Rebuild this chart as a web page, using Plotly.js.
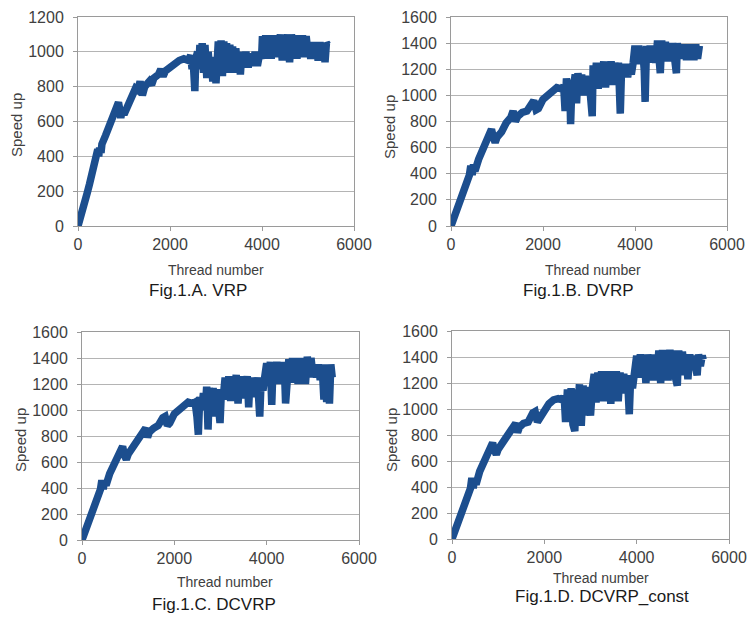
<!DOCTYPE html>
<html>
<head>
<meta charset="utf-8">
<script src="https://cdn.plot.ly/plotly-3.0.1.min.js"></script>
<style>html,body{margin:0;padding:0;background:#fff}#chart{width:747px;height:619px}</style>
</head>
<body>
<div id="chart"></div>
<script>
// Fig.1.A VRP
const threadsA = [0,50,100,150,200,250,300,350,400,430,450,470,500,520,600,700,780,850,880,900,930,960,1000,1100,1200,1250,1300,1350,1400,1450,1550,1600,1650,1750,1800,1850,1900,2000,2100,2200,2300,2400,
2450,2480,2500,2540,2560,2600,2620,2650,2680,2700,2730,2760,2800,2830,2860,2900,2930,2960,3000,3020,3050,3080,3110,3140,3170,3200,3230,3260,3300,3330,3360,3400,3430,3460,3500,3530,3560,3600,3650,3700,3750,3800,3850,3900,3950,3990,
4010,4040,4080,4120,4160,4200,4240,4280,4320,4360,4400,4440,4480,4520,4560,4600,4640,4680,4720,4760,4800,4840,4880,4920,4960,5000,
5020,5060,5100,5140,5180,5220,5260,5300,5340,5370,5400,5430];
const speedupA = [0,40,90,140,190,240,290,340,390,440,400,450,420,470,520,590,640,690,710,680,620,670,640,700,760,790,780,830,750,800,830,810,850,870,900,860,890,910,940,950,960,950,
980,900,970,775,960,1000,900,1040,950,1050,880,1040,850,1000,900,960,830,970,820,1000,1060,870,1065,860,1060,900,1050,880,1040,950,1030,880,1020,940,1000,870,990,920,1000,910,990,920,1000,920,990,960,
1090,960,1095,990,1090,960,1095,1000,1090,970,1100,950,1095,1000,1100,940,1100,1000,1095,960,1090,980,1095,970,1090,990,
1050,960,1055,990,1050,950,1055,970,1050,940,1050,1040];

// Fig.1.B DVRP
const threadsB = [0,100,200,300,400,430,460,490,520,600,700,800,880,920,960,1000,1100,1200,1300,1350,1400,1450,1550,1650,1750,1800,1850,1900,2000,2100,2200,2300,2400,
2450,2480,2510,2540,2580,2600,2630,2660,2700,2730,2760,2800,2840,2880,2920,2960,3000,3030,
3070,3090,3120,3160,3200,3240,3280,3320,3360,3400,3440,3480,3520,3560,3600,3640,3680,3710,3750,3800,3840,3880,3920,3960,
4000,4040,4080,4120,4160,4200,4220,4250,4290,4330,4370,4410,4450,4490,4520,4550,4580,4620,4660,4700,4740,4780,4820,4860,4900,4920,4960,5000,5040,5080,5120,5160,5200,5240,5280,5320,5360,5400];
const speedupB = [0,90,190,290,390,460,390,470,420,510,600,660,740,680,640,680,720,790,830,880,800,840,870,880,940,960,890,900,970,1000,1040,1060,1050,
1070,880,1130,1000,1120,780,1100,1050,1160,940,1170,1040,1160,1000,1150,1020,1130,1000,
840,1230,1060,1250,1050,1240,1080,1260,1060,1250,1100,1260,1080,1250,1120,1250,860,1230,1150,1240,1140,1230,1160,1250,
1380,1240,1380,1260,1370,1200,950,1380,1250,1380,1260,1370,1250,1420,1280,1170,1420,1260,1410,1280,1400,1260,1400,1280,1170,1400,1280,1390,1290,1390,1270,1390,1290,1390,1270,1390,1280,1380];

// Fig.1.C DCVRP
const threadsC = [0,100,200,300,400,430,460,490,520,600,700,800,880,920,960,1000,1100,1200,1300,1380,1420,1460,1550,1650,1750,1800,1850,1900,2000,2100,2200,2300,2400,
2450,2490,2520,2550,2590,2630,2670,2700,2730,2760,2800,2840,2880,2920,2960,2990,3020,
3060,3100,3140,3180,3220,3260,3300,3340,3380,3420,3460,3500,3540,3580,3610,3640,3680,3720,3760,3800,3850,3880,3920,3960,
4000,4040,4080,4110,4140,4180,4220,4260,4300,4340,4380,4410,4440,4480,4520,4560,4600,4640,4680,4720,4760,4800,4840,4880,4920,4960,5000,
5040,5080,5120,5160,5200,5240,5270,5300,5330,5360,5390,5420];
const speedupC = [0,90,190,290,390,460,390,460,420,510,590,650,720,650,620,660,720,780,820,860,790,830,860,880,940,950,880,900,970,1000,1040,1060,1050,
1060,950,810,1100,1000,1130,1000,1180,850,1170,1020,1170,950,1160,1050,900,1150,
1100,1250,1080,1260,1070,1250,1100,1270,1050,1260,1090,1250,1100,1260,1020,1250,1100,1240,1120,1250,950,1230,1150,1260,
1360,1220,1370,1040,1360,1200,1370,1210,1360,1200,1370,1050,1360,1390,1220,1400,1210,1400,1200,1400,1230,1400,1200,1410,1250,1400,1280,
1350,1250,1350,1230,1350,1080,1340,1060,1350,1050,1350,1250];

// Fig.1.D DCVRP_const
const threadsD = [0,100,200,300,400,430,460,490,520,600,700,800,880,920,960,1000,1100,1200,1300,1380,1420,1460,1550,1650,1750,1800,1850,1900,2000,2100,2200,2300,2400,
2430,2460,2500,2540,2580,2620,2660,2690,2730,2760,2800,2840,2880,2920,2960,3000,3040,
3080,3120,3160,3200,3240,3280,3320,3360,3400,3440,3480,3520,3560,3600,3640,3680,3720,3760,3800,3840,3870,3910,3950,
4000,4040,4080,4120,4160,4200,4240,4280,4320,4360,4400,4440,4480,4520,4560,4600,4640,4680,4720,4760,4800,4840,4880,4910,4950,4990,
5030,5070,5110,5150,5190,5230,5270,5310,5340,5380,5420,5440];
const speedupD = [0,90,190,290,390,470,390,470,420,520,600,670,740,680,650,690,750,810,850,890,820,860,890,900,970,980,900,930,1000,1040,1070,1080,1070,
1100,900,1150,950,1160,880,830,1150,1000,1190,870,1180,950,1170,1000,950,1160,
1270,1050,1280,1100,1290,1060,1280,1120,1290,1040,1280,1100,1290,1060,1280,1120,1270,1150,1260,960,1250,1160,1260,
1410,1240,1420,1280,1410,1200,1420,1260,1410,1220,1420,1260,1450,1200,1455,1250,1450,1220,1455,1260,1450,1240,1180,1450,1260,1440,
1320,1420,1230,1420,1300,1410,1290,1260,1420,1330,1410,1380];

const captions = ["Fig.1.A. VRP", "Fig.1.B. DVRP", "Fig.1.C. DCVRP", "Fig.1.D. DCVRP_const"];
const xTitle = "Thread number";
const yTitle = "Speed up";

const W = 747, H = 619;
const px = v => v / W, py = v => 1 - v / H;
const lineColor = "#1c4e8e";
const FONT = "Liberation Sans, Arial, sans-serif";

const panels = [
  {x: threadsA, y: speedupA, xd: [78, 354], yd: [226, 17], ymax: 1200, cap: [198, 291], xt: [216, 270], yt: [17, 125]},
  {x: threadsB, y: speedupB, xd: [451, 727], yd: [226, 17], ymax: 1600, cap: [578, 291], xt: [593, 270], yt: [389, 127]},
  {x: threadsC, y: speedupC, xd: [82, 359], yd: [540, 332], ymax: 1600, cap: [214, 604], xt: [225, 582], yt: [20, 440]},
  {x: threadsD, y: speedupD, xd: [452, 729], yd: [539, 331], ymax: 1600, cap: [602, 596], xt: [601, 578], yt: [391, 440]}
];

const traces = [];
const layout = {
  width: W, height: H,
  margin: {l: 0, r: 0, t: 0, b: 0},
  paper_bgcolor: "#fff", plot_bgcolor: "#fff",
  showlegend: false,
  font: {family: FONT, color: "#404040"},
  annotations: []
};

panels.forEach((p, i) => {
  const n = i === 0 ? "" : String(i + 1);
  traces.push({
    type: "scatter", mode: "lines",
    x: p.x, y: p.y,
    xaxis: "x" + n, yaxis: "y" + n,
    line: {color: lineColor, width: 7.5},
    hoverinfo: "skip"
  });
  const axCommon = {
    showline: true, linecolor: "#9a9a9a", linewidth: 1, mirror: true,
    ticks: "outside", ticklen: 4, tickcolor: "#9a9a9a",
    tickfont: {family: FONT, size: 16, color: "#404040"},
    zeroline: false, fixedrange: true
  };
  layout["xaxis" + n] = Object.assign({}, axCommon, {
    domain: [px(p.xd[0]), px(p.xd[1])],
    range: [0, 6000], dtick: 2000, tick0: 0,
    showgrid: false,
    anchor: "y" + n
  });
  layout["yaxis" + n] = Object.assign({}, axCommon, {
    domain: [py(p.yd[0]), py(p.yd[1])],
    range: [0, p.ymax], dtick: 200, tick0: 0,
    showgrid: true, gridcolor: "#b4b4b4", gridwidth: 1,
    ticklabelstandoff: 6,
    anchor: "x" + n
  });
  layout.annotations.push({
    text: captions[i],
    x: px(p.cap[0]), y: py(p.cap[1]), xref: "paper", yref: "paper",
    xanchor: "center", yanchor: "middle", showarrow: false,
    font: {family: FONT, size: 17, color: "#1a1a1a"}
  });
  layout.annotations.push({
    text: xTitle,
    x: px(p.xt[0]), y: py(p.xt[1]), xref: "paper", yref: "paper",
    xanchor: "center", yanchor: "middle", showarrow: false,
    font: {family: FONT, size: 14, color: "#404040"}
  });
  layout.annotations.push({
    text: yTitle, textangle: -90,
    x: px(p.yt[0]), y: py(p.yt[1]), xref: "paper", yref: "paper",
    xanchor: "center", yanchor: "middle", showarrow: false,
    font: {family: FONT, size: 15, color: "#404040"}
  });
});

Plotly.newPlot("chart", traces, layout, {displayModeBar: false, staticPlot: true});
</script>
</body>
</html>
